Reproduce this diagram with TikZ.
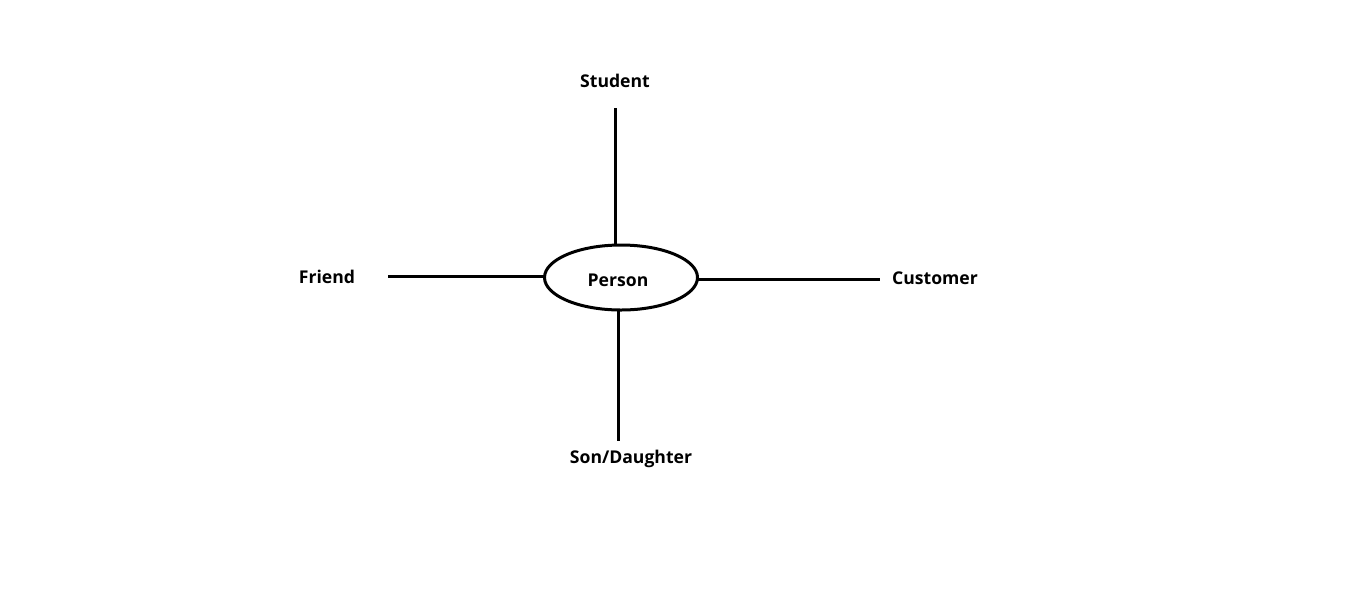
\documentclass[tikz,border=0pt]{standalone}
\usepackage{fontspec}
\setmainfont{Open Sans}
\usetikzlibrary{shapes.geometric}
\begin{document}
\begin{tikzpicture}[x=0.75pt,y=-0.75pt,
  lbl/.style={font=\fontsize{13.2pt}{16pt}\selectfont\bfseries, inner sep=0pt},
  conn/.style={line width=2.25pt}]
\useasboundingbox (0,0) rectangle (1360,594);
\draw[line width=2.25pt] (621,277.5) ellipse [x radius=76.5, y radius=32.5];
\node[lbl] (person) at (618,280) {Person};
\node[lbl] (student) at (615,81) {Student};
\node[lbl] (friend) at (327,277) {Friend};
\node[lbl] (customer) at (935,278) {Customer};
\node[lbl] (son) at (631,459) {Son/Daughter};
\coordinate (sA) at (615,108); \coordinate (sB) at (615,245);
\coordinate (fA) at (388,276); \coordinate (fB) at (544.5,276);
\coordinate (cA) at (697.5,279); \coordinate (cB) at (880,279);
\coordinate (dA) at (618,310); \coordinate (dB) at (618,441);
\draw[conn] (sA) -- (sB);
\draw[conn] (fA) -- (fB);
\draw[conn] (cA) -- (cB);
\draw[conn] (dA) -- (dB);
\end{tikzpicture}
\end{document}
